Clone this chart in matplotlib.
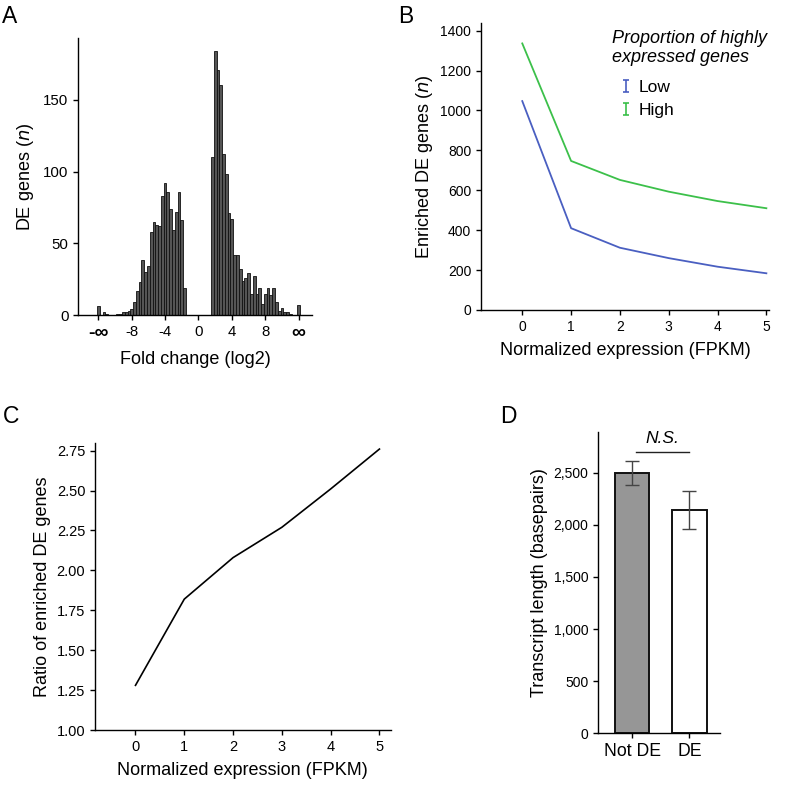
import numpy as np
import matplotlib
matplotlib.use("Agg")
import matplotlib.pyplot as plt
from matplotlib.path import Path
from matplotlib.lines import Line2D

plt.rcParams['font.family'] = ['Liberation Sans', 'DejaVu Sans']
plt.rcParams['axes.linewidth'] = 1.0
plt.rcParams['xtick.major.size'] = 3.5
plt.rcParams['ytick.major.size'] = 3.5

# --- panel A: fold change histogram (bin width 1/3 log2)
BIN_W = 1 / 3
inf_pos = 12
neg_tail_x = [-11.33, -11.0]
neg_tail_n = [2, 1]
neg_start = -9.67
neg_counts = [1, 1, 2, 2, 3, 4, 9, 17, 23, 38, 30, 34, 58, 65, 63, 62,
              83, 92, 86, 74, 59, 72, 86, 66, 19]
pos_start = 1.67
pos_counts = [110, 184, 171, 160, 112, 98, 71, 67, 42, 42, 32, 24, 26, 29,
              15, 27, 15, 19, 8, 15, 19, 14, 19, 9, 3, 5, 2, 2, 1]
neg_inf_n = 6
pos_inf_n = 7
a_ticks = [-12, -8, -4, 0, 4, 8, 12]
a_ticklabels = ['-∞', '-8', '-4', '0', '4', '8', '∞']

# --- panel B
fpkm = [0, 1, 2, 3, 4, 5]
low = [1047, 410, 312, 260, 217, 184]
high = [1336, 747, 652, 593, 546, 510]

# --- panel C
ratio = [1.28, 1.82, 2.08, 2.27, 2.51, 2.76]

# --- panel D
groups = ['Not DE', 'DE']
length_mean = [2494, 2142]
length_err = [117, 182]

LBL = 13

fig = plt.figure(figsize=(7.87, 7.86), dpi=100)

def clean(ax):
    ax.spines['top'].set_visible(False)
    ax.spines['right'].set_visible(False)
    ax.tick_params(labelsize=10, width=1.0)

# A
axA = fig.add_axes([0.0995, 0.5992, 0.2969, 0.3524])
xs = (list(np.round(neg_start + BIN_W * np.arange(len(neg_counts)), 3))
      + list(np.round(pos_start + BIN_W * np.arange(len(pos_counts)), 3)))
ns = neg_counts + pos_counts
axA.bar(xs, ns, width=BIN_W, color='#555555', edgecolor='#111111', linewidth=0.6)
axA.bar(neg_tail_x + [-inf_pos, inf_pos], neg_tail_n + [neg_inf_n, pos_inf_n],
        width=BIN_W, color='#555555', edgecolor='#111111', linewidth=0.6)
axA.set_xlim(-14.4, 13.6)
axA.set_ylim(0, 193)
axA.set_yticks([0, 50, 100, 150])
axA.set_xticks(a_ticks)
axA.set_xticklabels(a_ticklabels)
clean(axA)
axA.tick_params(labelsize=10.8)
for t in axA.get_xticklabels():
    if '∞' in t.get_text():
        t.set_fontweight('bold')
        t.set_fontsize(14)
axA.set_xlabel('Fold change (log2)', fontsize=LBL, labelpad=7)
axA.set_ylabel('DE genes ($\\it{n}$)', fontsize=LBL, labelpad=5)

# B
axB = fig.add_axes([0.6112, 0.6056, 0.3663, 0.3648])
c_low, c_high = '#4a5fc1', '#3cc04a'
axB.plot(fpkm, low, color=c_low, lw=1.3)
axB.plot(fpkm, high, color=c_high, lw=1.3)
axB.set_xlim(-0.845, 5.06)
axB.set_ylim(0, 1437)
axB.set_yticks(range(0, 1401, 200))
axB.set_xticks(fpkm)
clean(axB)
axB.set_xlabel('Normalized expression (FPKM)', fontsize=LBL, labelpad=6)
axB.set_ylabel('Enriched DE genes ($\\it{n}$)', fontsize=LBL)
axB.text(0.454, 0.914, 'Proportion of highly\nexpressed genes', transform=axB.transAxes,
         style='italic', fontsize=13, ha='left', va='center', linespacing=1.15)
ibeam = Path([(-0.5, -1), (0.5, -1), (0, -1), (0, 1), (-0.5, 1), (0.5, 1)],
             [Path.MOVETO, Path.LINETO, Path.MOVETO, Path.LINETO, Path.MOVETO, Path.LINETO])
handles = [Line2D([], [], ls='none', marker=ibeam, markersize=9, mew=1.2,
                  markeredgecolor=c, markerfacecolor='none') for c in (c_low, c_high)]
axB.legend(handles, ['Low', 'High'], loc='center left', bbox_to_anchor=(0.48, 0.735),
           frameon=False, fontsize=12.5, handlelength=0.8, handletextpad=0.3,
           labelspacing=0.45, borderaxespad=0, borderpad=0)

# C
axC = fig.add_axes([0.1207, 0.0712, 0.3757, 0.3648])
axC.plot(fpkm, ratio, color='black', lw=1.2)
axC.set_xlim(-0.83, 5.23)
axC.set_ylim(1.0, 2.796)
c_ticks = [1.0, 1.25, 1.5, 1.75, 2.0, 2.25, 2.5, 2.75]
axC.set_yticks(c_ticks)
axC.set_yticklabels(['%.2f' % v for v in c_ticks])
axC.set_xticks(fpkm)
clean(axC)
axC.tick_params(labelsize=10.5)
axC.set_xlabel('Normalized expression (FPKM)', fontsize=LBL, labelpad=6)
axC.set_ylabel('Ratio of enriched DE genes', fontsize=LBL)

# D
axD = fig.add_axes([0.7602, 0.0670, 0.1547, 0.3838])
xd = np.arange(len(groups))
axD.bar(xd, length_mean, width=0.6, color=['#969696', 'white'], edgecolor='#111111', linewidth=1.4)
axD.errorbar(xd, length_mean, yerr=length_err, fmt='none', ecolor='#444444', elinewidth=1.0, capsize=4.7)
axD.set_xlim(-0.596, 1.535)
axD.set_ylim(0, 2892)
axD.set_yticks(range(0, 2501, 500))
axD.set_yticklabels(['{:,}'.format(v) for v in range(0, 2501, 500)])
axD.set_xticks(xd)
axD.set_xticklabels(groups)
clean(axD)
axD.tick_params(axis='x', labelsize=12.7)
axD.set_ylabel('Transcript length (basepairs)', fontsize=LBL)
axD.plot([0.06, 0.99], [2698, 2698], color='#222222', lw=1.0)
axD.text(0.52, 2750, 'N.S.', style='italic', ha='center', va='bottom', fontsize=12.5)

# panel letters
for lbl, x, y in [('A', 0.002, 0.9936), ('B', 0.5057, 0.9936), ('C', 0.004, 0.4847), ('D', 0.635, 0.4847)]:
    fig.text(x, y, lbl, fontsize=16.5, va='top', ha='left')

fig.savefig('out.png', dpi=100)
